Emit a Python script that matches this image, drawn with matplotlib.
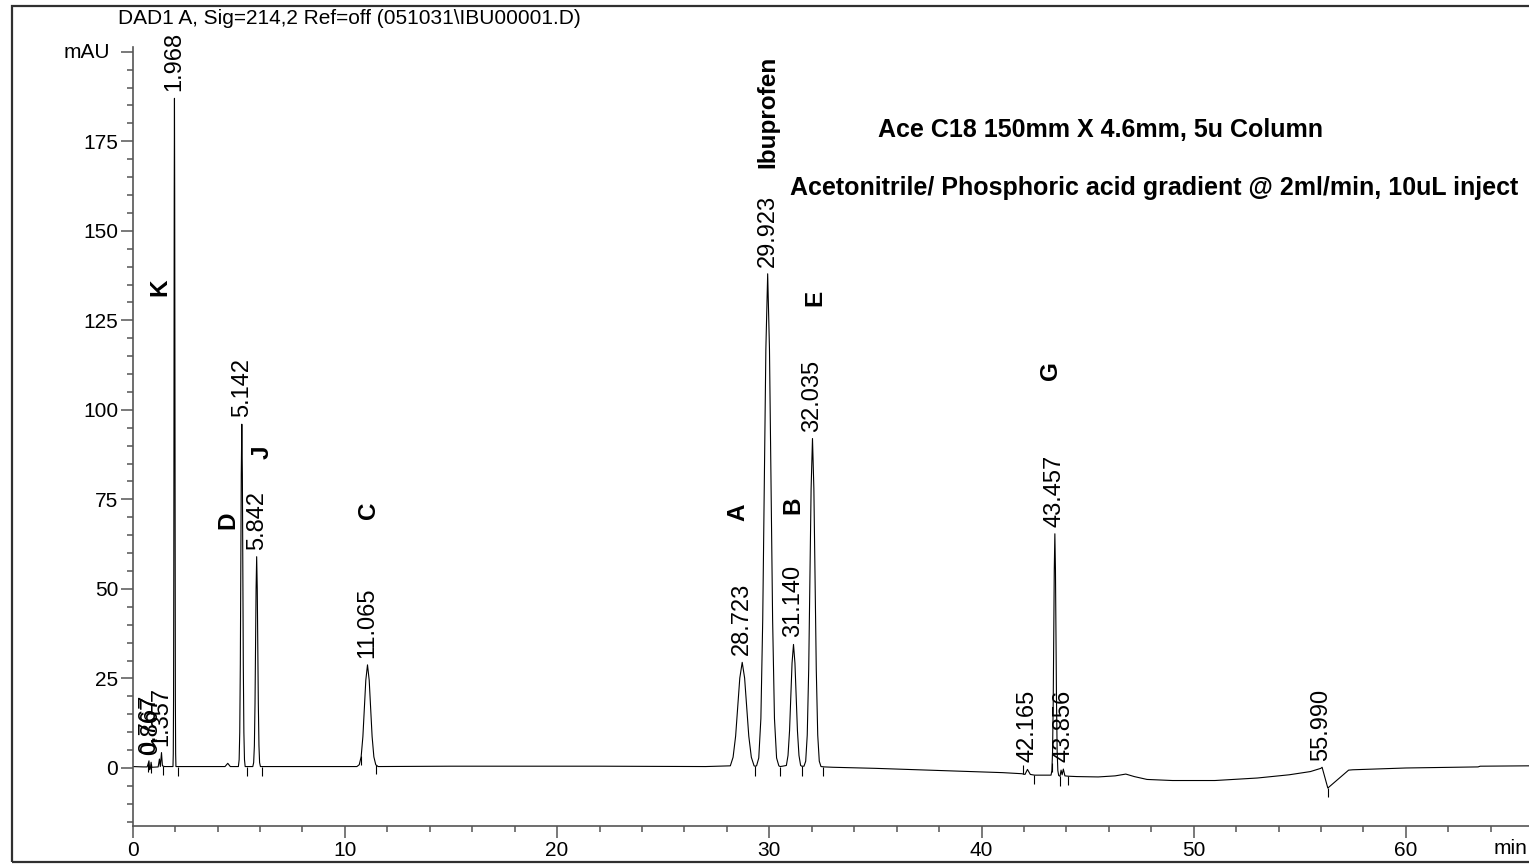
import numpy as np
import matplotlib
matplotlib.use("Agg")
import matplotlib.pyplot as plt
from matplotlib.ticker import MultipleLocator, FixedLocator, FixedFormatter
from matplotlib.patches import Rectangle

plt.rcParams['font.family'] = ['Liberation Sans', 'DejaVu Sans']

# ---------------- data ----------------
trace_t = [0.0, 0.5, 0.68, 0.72, 0.767, 0.80, 0.84, 0.867, 0.90, 1.2, 1.26, 1.30, 1.357, 1.40, 1.5,
           1.86, 1.898, 1.912, 1.925, 1.937, 1.948, 1.957, 1.968, 1.979, 1.988, 1.999, 2.011, 2.024, 2.038, 2.08,
           4.35, 4.48, 4.6,
           4.98, 5.016, 5.045, 5.072, 5.097, 5.116, 5.142, 5.168, 5.187, 5.212, 5.239, 5.268, 5.30,
           5.66, 5.70, 5.734, 5.764, 5.792, 5.814, 5.842, 5.870, 5.892, 5.920, 5.950, 5.98, 6.02,
           7.0, 10.565, 10.675, 10.765, 10.848, 10.925, 10.985, 11.065, 11.145, 11.205, 11.282, 11.365, 11.455, 11.565,
           15.0, 22.0, 27.0,
           28.163, 28.293, 28.413, 28.523, 28.609, 28.723, 28.837, 28.923, 29.033, 29.153, 29.283, 29.33,
           29.40, 29.503, 29.603, 29.69, 29.773, 29.838, 29.923, 30.008, 30.073, 30.156, 30.243, 30.343, 30.45, 30.51,
           30.62, 30.804, 30.882, 30.954, 31.02, 31.072, 31.14, 31.208, 31.26, 31.326, 31.398, 31.476, 31.53,
           31.635, 31.715, 31.788, 31.857, 31.92, 31.97, 32.035, 32.10, 32.15, 32.213, 32.282, 32.355, 32.435, 32.6,
           33.0, 35.0, 37.0, 39.0, 41.0, 41.9, 42.05, 42.165, 42.30, 42.5,
           43.277, 43.317, 43.349, 43.379, 43.407, 43.429, 43.457, 43.485, 43.507, 43.535, 43.565, 43.597, 43.637,
           43.70, 43.75, 43.80, 43.856, 43.93, 44.1,
           44.5, 45.5, 46.3, 46.8, 47.2, 47.8, 49.0, 51.0, 53.0, 54.5, 55.5,
           55.99, 56.05, 56.32, 57.3, 57.5, 60.0, 63.4, 63.5, 65.8]
trace_mau = [0.4, 0.3, 0.3, 1.0, 2.0, -0.5, 0.2, 1.6, 0.2, 0.3, 2.5, 0.4, 4.3, 0.6, 0.4,
             0.4, 0.4, 4.0, 19.0, 56.0, 113.0, 160.0, 187.0, 160.0, 113.0, 56.0, 19.0, 4.0, 0.4, 0.4,
             0.4, 1.3, 0.4,
             0.4, 2.3, 10.0, 29.0, 58.0, 82.0, 96.0, 82.0, 58.0, 29.0, 10.0, 2.3, 0.4,
             0.4, 1.5, 6.2, 18.0, 35.6, 50.0, 59.0, 50.0, 35.6, 18.0, 6.2, 1.5, 0.4,
             0.4, 0.4, 0.9, 3.1, 8.8, 17.4, 24.5, 28.8, 24.5, 17.4, 8.8, 3.1, 0.9, 0.4,
             0.5, 0.5, 0.4,
             0.6, 3.0, 8.9, 17.9, 25.1, 29.5, 25.1, 17.9, 8.9, 3.0, 0.6, 0.5,
             0.6, 2.8, 13.8, 41.4, 84.0, 117.0, 138.0, 117.0, 84.0, 41.4, 13.8, 2.8, 0.6, 0.4,
             0.5, 0.7, 3.5, 10.4, 21.0, 29.3, 34.5, 29.3, 21.0, 10.4, 3.5, 0.7, 0.5,
             0.5, 1.9, 9.2, 27.6, 56.0, 78.0, 92.0, 78.0, 56.0, 27.6, 9.2, 1.9, 0.4, 0.3,
             0.2, -0.1, -0.5, -0.9, -1.3, -1.6, -1.8, -0.4, -1.8, -2.0,
             -2.0, -0.7, 4.7, 18.2, 38.9, 55.3, 65.4, 55.3, 38.9, 18.2, 4.7, -0.7, -2.1,
             -2.3, -0.6, -1.9, -0.3, -2.2, -2.3,
             -2.4, -2.5, -2.2, -1.7, -2.4, -3.2, -3.5, -3.5, -2.8, -1.9, -1.0,
             -0.1, 0.2, -5.6, -0.6, -0.5, 0.0, 0.3, 0.5, 0.6]

peak_rt = [0.767, 0.867, 1.357, 1.968, 5.142, 5.842, 11.065, 28.723, 29.923,
           31.140, 32.035, 42.165, 43.457, 43.856, 55.990]
peak_labels = ["0.767", "0.867", "1.357", "1.968", "5.142", "5.842", "11.065", "28.723",
               "29.923", "31.140", "32.035", "42.165", "43.457", "43.856", "55.990"]

compound_names = ["K", "D", "J", "C", "A", "B", "E", "G", "Ibuprofen"]
compound_t = [1.29, 4.49, 6.09, 11.09, 28.53, 31.12, 32.13, 43.23, 29.92]
compound_y = [134.3, 69.3, 88.2, 72.0, 71.5, 73.4, 131.3, 111.1, 183.1]

marker_down_t = [0.74, 0.86, 1.44, 2.15, 5.40, 6.11, 10.77, 11.48,
                 29.33, 30.51, 31.53, 32.52, 42.47, 43.70, 44.06, 56.32]
marker_up_t = [41.95, 43.30]

x_major = [0, 10, 20, 30, 40, 50, 60]
y_major = [0, 25, 50, 75, 100, 125, 150, 175, 200]
y_major_labels = ["0", "25", "50", "75", "100", "125", "150", "175", ""]

title_text = "DAD1 A, Sig=214,2 Ref=off (051031\\IBU00001.D)"
note_line1 = "Ace C18 150mm X 4.6mm, 5u Column"
note_line2 = "Acetonitrile/ Phosphoric acid gradient @ 2ml/min, 10uL inject"

# ---------------- figure ----------------
W, H = 1529, 864
fig = plt.figure(figsize=(W / 100, H / 100), dpi=100)
fig.patch.set_facecolor("white")

# outer frame
fig.patches.append(Rectangle((12.3 / W, 2.0 / H), 1.2, (862 - 6) / H,
                             transform=fig.transFigure, fill=False,
                             edgecolor="#303030", linewidth=1.6))

ax_left = 132.7 / W
ax_bottom = (H - 826) / H
ax = fig.add_axes([ax_left, ax_bottom, 0.9132, 0.9015])
ax.set_xlim(0, 65.8)
ax.set_ylim(-16.2, 201.3)

t = np.array(trace_t)
v = np.array(trace_mau)
ax.plot(t, v, color="black", linewidth=0.8)

# integration markers
md = np.array(marker_down_t)
mv = np.interp(md, t, v)
ax.vlines(md, mv - 2.6, mv, color="black", linewidth=0.8)
mu = np.array(marker_up_t)
muv = np.interp(mu, t, v)
ax.vlines(mu, muv, muv + 2.6, color="black", linewidth=0.8)

# peak retention-time labels
for rt, lab in zip(peak_rt, peak_labels):
    y = np.interp(rt, t, v)
    ax.annotate(lab, xy=(rt, y), xytext=(0, 5), textcoords="offset points",
                rotation=90, ha="center", va="bottom", fontsize=17, color="black")

# compound letters
for name, ct, cy in zip(compound_names, compound_t, compound_y):
    ax.text(ct, cy, name, rotation=90, ha="center", va="center",
            fontsize=17.5, fontweight="bold", color="black")

# method notes
ax.text(45.63, 178.2, note_line1, ha="center", va="center", fontsize=18,
        fontweight="bold", color="black", clip_on=False)
ax.text(30.99, 162.0, note_line2, ha="left", va="center", fontsize=18,
        fontweight="bold", color="black", clip_on=False)

# axes styling
for s in ["top", "right"]:
    ax.spines[s].set_visible(False)
for s in ["left", "bottom"]:
    ax.spines[s].set_color("#555555")
    ax.spines[s].set_linewidth(1.2)

ax.xaxis.set_major_locator(FixedLocator(x_major))
ax.xaxis.set_minor_locator(MultipleLocator(2))
ax.yaxis.set_major_locator(FixedLocator(y_major))
ax.yaxis.set_major_formatter(FixedFormatter(y_major_labels))
ax.yaxis.set_minor_locator(MultipleLocator(5))
ax.tick_params(axis="both", which="major", direction="out", length=8.5, width=1.1,
               color="#555555", labelsize=15, pad=2, labelcolor="black")
ax.tick_params(axis="both", which="minor", direction="out", length=4.5, width=1.1,
               color="#555555")

fig.text(118 / W, 1 - 18 / H, title_text, ha="left", va="center", fontsize=15, color="black")
fig.text(110 / W, 1 - 52.6 / H, "mAU", ha="right", va="center", fontsize=15, color="black")
fig.text(1527 / W, 1 - 848 / H, "min", ha="right", va="center", fontsize=15, color="black")

fig.savefig("out.png", dpi=100)
